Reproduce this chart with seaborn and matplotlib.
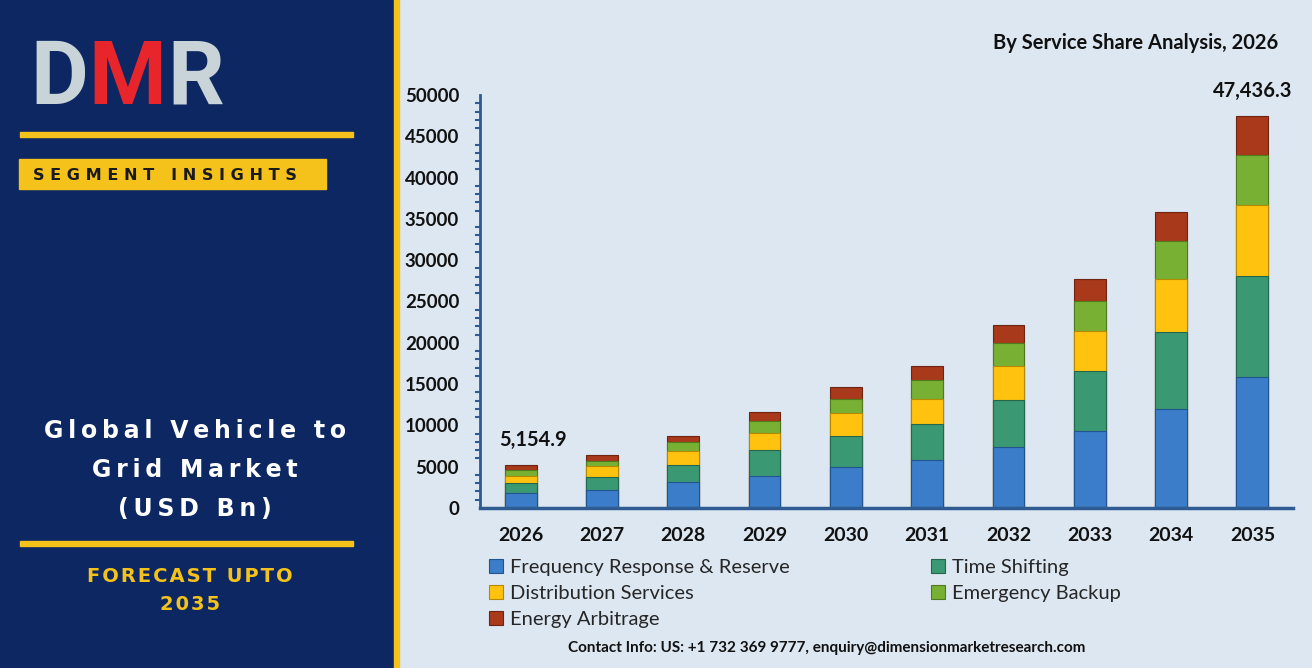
import numpy as np
import matplotlib
matplotlib.use('Agg')
import matplotlib.pyplot as plt
from matplotlib.patches import Rectangle, Patch
from matplotlib.ticker import MultipleLocator
import seaborn as sns

# Chart data
years = ['2026', '2027', '2028', '2029', '2030', '2031', '2032', '2033', '2034', '2035']
freq_response = [1800, 2180, 3100, 3910, 4960, 5770, 7380, 9280, 11980, 15850]
time_shifting = [1230, 1610, 2140, 3150, 3790, 4440, 5740, 7260, 9280, 12270]
distribution = [900, 1290, 1690, 2020, 2750, 3030, 4030, 4840, 6450, 8580]
emergency_backup = [650, 640, 1000, 1490, 1730, 2300, 2870, 3630, 4600, 6030]
energy_arbitrage = [575, 690, 810, 1090, 1420, 1650, 2180, 2750, 3470, 4706]

segment_names = ['Frequency Response & Reserve', 'Time Shifting', 'Distribution Services',
                 'Emergency Backup', 'Energy Arbitrage']
segment_colors = ['#3b7dc8', '#3a9873', '#ffc20e', '#77b032', '#a8391a']
edge_colors = ['#24548f', '#25674c', '#b58a00', '#4f7a1e', '#6e2410']

label_values = {0: '5,154.9', 9: '47,436.3'}

navy = '#0d2762'
gold = '#f4c21b'
chart_bg = '#dde7f2'
axis_col = '#2e5b92'

sns.set_style('white')
plt.rcParams['font.family'] = ['Lato', 'DejaVu Sans']

W, H = 1312, 668
fig = plt.figure(figsize=(W / 100, H / 100), dpi=100)
fig.patch.set_facecolor(chart_bg)
renderer = fig.canvas.get_renderer()


def fx(px):
    return px / W


def fy(py):
    return 1 - py / H


def spaced(s, sep):
    return sep.join(s)


# Left navy panel and yellow separator
fig.add_artist(Rectangle((0, 0), fx(393), 1, transform=fig.transFigure, color=navy, zorder=0))
fig.add_artist(Rectangle((fx(394), 0), fx(5), 1, transform=fig.transFigure, color=gold, zorder=0))

# DMR logo, letters placed side by side
x_pos = 30
for letter, col in [('D', '#c9d4d8'), ('M', '#e8252b'), ('R', '#c9d4d8')]:
    t = fig.text(fx(x_pos), fy(79), letter, color=col, fontsize=64, fontweight='bold',
                 family=['Roboto', 'DejaVu Sans'], va='center', ha='left')
    bb = t.get_window_extent(renderer)
    x_pos = bb.x1 + 1

fig.add_artist(Rectangle((fx(20), fy(137)), fx(333), 5 / H, transform=fig.transFigure, color=gold))
fig.add_artist(Rectangle((fx(19), fy(189)), fx(307), 30 / H, transform=fig.transFigure, color=gold))
fig.text(fx(33), fy(175), 'S E G M E N T   I N S I G H T S', color='#1a1a1a', fontsize=11.6,
         fontweight='bold', family='DejaVu Sans', va='center', ha='left')

title_lines = [('Global Vehicle to', 431), ('Grid Market', 470), ('(USD Bn)', 509)]
for line, ypx in title_lines:
    fig.text(fx(195), fy(ypx), spaced(line, '\u2009'), color='white', fontsize=17,
             fontweight='bold', family='DejaVu Sans', ha='center', va='center')
fig.add_artist(Rectangle((fx(20), fy(546)), fx(333), 5 / H, transform=fig.transFigure, color=gold))
for line, ypx in [('FORECAST UPTO', 576), ('2035', 604)]:
    fig.text(fx(190), fy(ypx), spaced(line, '\u200a'), color=gold, fontsize=14, fontweight='bold',
             family='DejaVu Sans', ha='center', va='center')

# Main chart
ax = fig.add_axes([fx(480), fy(508), fx(1293 - 480), (508 - 95) / H])
ax.set_facecolor('none')

series = [freq_response, time_shifting, distribution, emergency_backup, energy_arbitrage]
cum = np.zeros(len(years))
tops = []
for vals in series:
    cum = cum + np.array(vals)
    tops.append(cum.copy())

# draw cumulative bars from tallest to shortest so they stack
for top, col, ec in reversed(list(zip(tops, segment_colors, edge_colors))):
    sns.barplot(x=years, y=top, color=col, saturation=1, width=0.39, ax=ax,
                edgecolor=ec, linewidth=0.8, order=years)

totals = tops[-1]
for i, txt in label_values.items():
    ax.annotate(txt, (i, totals[i]), xytext=(9 if i == 0 else 0, 18), textcoords='offset points',
                ha='center', va='center', fontsize=14.5, fontweight='bold', color='#111111')

ax.set_xlim(-0.5, len(years) - 0.5)
ax.set_ylim(0, 50000)
ax.yaxis.set_major_locator(MultipleLocator(5000))
ax.yaxis.set_minor_locator(MultipleLocator(1000))
ax.set_xlabel('')
ax.set_ylabel('')

for side in ['top', 'right']:
    ax.spines[side].set_visible(False)
ax.spines['left'].set_color(axis_col)
ax.spines['left'].set_linewidth(2)
ax.spines['bottom'].set_color(axis_col)
ax.spines['bottom'].set_linewidth(2.5)

ax.tick_params(axis='y', which='major', direction='out', length=5, width=1.8, color=axis_col,
               labelsize=13.5, pad=10)
ax.tick_params(axis='y', which='minor', direction='out', length=3.6, width=1.5, color=axis_col, left=True)
ax.tick_params(axis='x', length=0, labelsize=14, pad=14)
for lab in ax.get_xticklabels() + ax.get_yticklabels():
    lab.set_fontweight('bold')
    lab.set_color('#111111')

fig.text(fx(1278), fy(43), 'By Service Share Analysis, 2026', ha='right', va='center',
         fontsize=14.5, fontweight='bold', color='#111111')

# Legend (column-major order to match the reference layout)
handles = [Patch(facecolor=c, edgecolor=e, linewidth=0.8) for c, e in zip(segment_colors, edge_colors)]
order = [0, 2, 4, 1, 3]
leg = fig.legend([handles[i] for i in order], [segment_names[i] for i in order], ncol=2,
                 loc='upper left', bbox_to_anchor=(fx(489), fy(559)), frameon=False,
                 fontsize=14.5, handlelength=0.7, handleheight=0.7, handletextpad=0.35,
                 labelspacing=0.45, columnspacing=7.0, borderaxespad=0, borderpad=0)

fig.text(fx(827), fy(648), 'Contact Info: US: +1 732 369 9777, enquiry@dimensionmarketresearch.com',
         ha='center', va='center', fontsize=11, fontweight='bold', color='#111111')

fig.savefig('out.png', dpi=100, facecolor=fig.get_facecolor())
